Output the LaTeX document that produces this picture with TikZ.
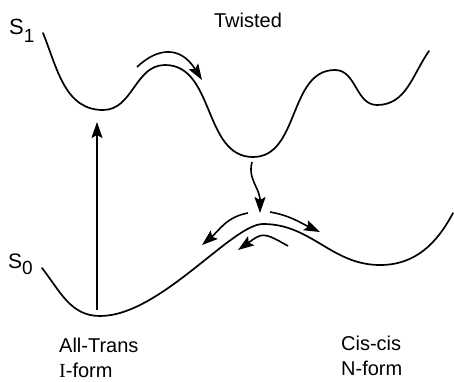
\documentclass[tikz,border=0pt]{standalone}
\usepackage{fontspec}
\setmainfont{Liberation Sans}
\newfontfamily\romanI{Liberation Serif}
\usetikzlibrary{arrows.meta}

\begin{document}
\begin{tikzpicture}[x=1pt,y=1pt,
  pes/.style={line width=1.7pt,line cap=round},
  flow/.style={line width=1.6pt,-{Stealth[length=16pt,width=11pt,inset=3pt]}},
  lbl/.style={inner sep=0pt,font=\fontsize{20}{24}\selectfont}]
\useasboundingbox (0,0) rectangle (454,381);
% --- excited state surface S1 -----------------------------------------
\draw[pes] (43,348) to[out=-68,in=180] (103,271) to[out=0,in=180] (165,316)
  to[out=0,in=180] (253,224) to[out=0,in=180] (335,311)
  to[out=0,in=180] (377,276) to[out=0,in=-125] (429,330);
% --- ground state surface S0 ------------------------------------------
\draw[pes] (42,113) to[out=-52,in=180] (100,65)
  .. controls (160,65) and (232,157) .. (263,157)
  to[out=0,in=180] (380,116) to[out=0,in=-118] (453,168);
% --- labels -----------------------------------------------------------
\node[lbl,anchor=base west,font=\fontsize{22}{24}\selectfont] (sOne) at (9,346)
  {S\raisebox{-8pt}{\fontsize{19}{20}\selectfont 1}};
\node[lbl,anchor=base west,font=\fontsize{21}{24}\selectfont] (sZero) at (8,113)
  {S\raisebox{-6pt}{\fontsize{19}{20}\selectfont 0}};
\node[lbl,anchor=base] (twisted) at (248,353) {Twisted};
\node[lbl,anchor=base west] (allTrans) at (59,29) {All-Trans};
\node[lbl,anchor=base west] (iForm) at (59,4) {{\romanI I}-form};
\node[lbl,anchor=base west] (cisCis) at (341,31) {Cis-cis};
\node[lbl,anchor=base west] (nForm) at (341,6) {N-form};
% --- arrows -----------------------------------------------------------
\coordinate (absFrom) at (97,71);
\coordinate (absTo) at (97,259);
\coordinate (hopFrom) at (137,314);
\coordinate (hopTo) at (202,301);
\coordinate (ciFrom) at (252,219);
\coordinate (ciMid) at (257,192);
\coordinate (ciTo) at (260,168);
\coordinate (leftFrom) at (248,168);
\coordinate (leftTo) at (202,136);
\coordinate (rightFrom) at (270,169);
\coordinate (rightTo) at (320,149);
\coordinate (backFrom) at (288,135);
\coordinate (backTo) at (238,131);
\draw[flow] (absFrom) -- (absTo);
\draw[flow] (hopFrom) .. controls (157,333) and (180,336) .. (hopTo);
\draw[flow] (ciFrom) to[out=-105,in=115] (ciMid) to[out=-65,in=90] (ciTo);
\draw[flow] (leftFrom) to[out=190,in=40] (leftTo);
\draw[flow] (rightFrom) to[out=-10,in=155] (rightTo);
\draw[flow] (backFrom) to[out=150,in=35,looseness=1.5] (backTo);
\end{tikzpicture}
\end{document}
